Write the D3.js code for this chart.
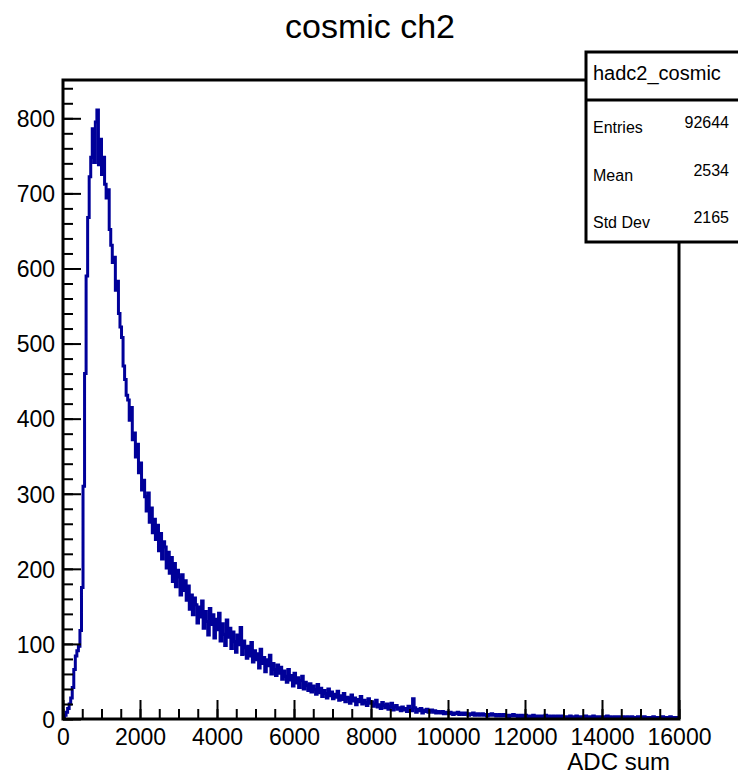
<!DOCTYPE html>
<html>
<head>
<meta charset="utf-8">
<script src="https://cdn.jsdelivr.net/npm/d3@7"></script>
<style>
  body { margin: 0; background: white; }
  svg { display: block; font-family: "Liberation Sans", Arimo, Helvetica, sans-serif; }
</style>
</head>
<body>
<svg id="chart" width="738" height="781"></svg>
<script>
// histogram hadc2_cosmic, 400 bins of 40 ADC between 0 and 16000
var binWidth = 40;
var counts = [
	2, 5, 9, 14, 20, 28, 42, 66, 84, 91, 97, 118, 175, 310, 460, 590, 668, 722, 748, 786,
	741, 795, 811, 738, 772, 725, 748, 712, 694, 705, 652, 631, 608, 615, 571, 583, 540, 522, 508, 470,
	452, 431, 425, 398, 415, 372, 381, 349, 366, 328, 341, 305, 318, 296, 277, 301, 262, 281, 248, 266,
	239, 258, 224, 247, 213, 236, 229, 201, 222, 194, 215, 183, 207, 176, 198, 189, 165, 192, 171, 184,
	158, 177, 146, 165, 139, 161, 152, 128, 149, 136, 157, 121, 143, 130, 112, 147, 126, 139, 108, 133,
	119, 141, 104, 127, 113, 98, 132, 109, 121, 94, 116, 103, 89, 112, 99, 122, 86, 104, 95, 81,
	97, 84, 102, 76, 91, 79, 87, 68, 93, 74, 82, 63, 79, 71, 85, 60, 74, 66, 58, 72,
	61, 69, 53, 64, 57, 49, 66, 52, 58, 44, 61, 48, 55, 42, 51, 57, 40, 49, 45, 38,
	47, 36, 44, 39, 33, 46, 35, 41, 30, 38, 34, 28, 40, 31, 36, 27, 33, 29, 37, 25,
	31, 26, 34, 23, 29, 27, 21, 32, 24, 28, 19, 26, 23, 30, 20, 25, 22, 18, 27, 21,
	23, 17, 20, 25, 16, 19, 14, 22, 18, 15, 20, 13, 17, 21, 12, 16, 18, 13, 15, 11,
	16, 12, 14, 10, 17, 13, 11, 27, 15, 9, 13, 11, 14, 8, 12, 10, 13, 9, 11, 12,
	9, 11, 8, 10, 9, 8, 10, 7, 9, 8, 7, 9, 8, 6, 8, 7, 9, 6, 7, 8,
	6, 8, 7, 5, 7, 6, 8, 5, 6, 7, 5, 6, 7, 5, 6, 4, 6, 5, 7, 5,
	6, 4, 5, 6, 4, 5, 6, 4, 5, 3, 5, 4, 6, 4, 5, 3, 4, 5, 3, 4,
	5, 3, 4, 4, 3, 5, 3, 4, 3, 4, 2, 4, 3, 5, 3, 4, 2, 3, 4, 3,
	3, 4, 2, 3, 4, 2, 3, 3, 2, 4, 3, 2, 3, 4, 2, 3, 2, 3, 2, 4,
	2, 3, 2, 3, 4, 2, 3, 2, 3, 2, 2, 3, 2, 4, 2, 3, 2, 2, 3, 2,
	3, 2, 2, 3, 1, 2, 3, 2, 2, 3, 2, 1, 2, 3, 2, 2, 1, 3, 2, 2,
	2, 1, 2, 3, 2, 2, 1, 2, 2, 3, 1, 2, 2, 1, 3, 2, 1, 2, 2, 1
];

var xTicks = [0, 2000, 4000, 6000, 8000, 10000, 12000, 14000, 16000];
var yTicks = [0, 100, 200, 300, 400, 500, 600, 700, 800];
var statNames = ["Entries", "Mean", "Std Dev"];
var statValues = ["92644", "2534", "2165"];

var svg = d3.select("#chart"),
	frameL = 63, frameR = 679, frameT = 80, frameB = 719,
	lineColor = "#000099";

var x = d3.scaleLinear().domain([0, 16000]).range([frameL, frameR]);
var y = d3.scaleLinear().domain([0, 851]).range([frameB, frameT]);

// title
svg.append("text")
	.attr("x", 370).attr("y", 38)
	.attr("text-anchor", "middle")
	.style("font-size", "34px")
	.text("cosmic ch2");

svg.append("clipPath").attr("id", "frame")
	.append("rect")
	.attr("x", frameL).attr("y", frameT)
	.attr("width", frameR - frameL).attr("height", frameB - frameT);

// histogram as steps
var pts = counts.map(function (c, i) { return [i * binWidth, c]; });
pts.push([counts.length * binWidth, counts[counts.length - 1]]);

var line = d3.line()
	.x(function (d) { return x(d[0]); })
	.y(function (d) { return y(d[1]); })
	.curve(d3.curveStepAfter);

svg.append("path")
	.datum(pts)
	.attr("clip-path", "url(#frame)")
	.attr("d", line)
	.attr("fill", "none")
	.attr("stroke", lineColor)
	.attr("stroke-width", 3)
	.attr("stroke-linejoin", "miter");

// minor ticks
var yMinor = d3.range(0, 851, 20);
var xMinor = d3.range(0, 16001, 500);

svg.append("g")
	.attr("transform", "translate(" + frameL + ",0)")
	.call(d3.axisLeft(y).tickValues(yMinor).tickSize(-10).tickFormat(""))
	.call(function (g) { g.select(".domain").remove(); })
	.selectAll("line").attr("stroke-width", 2);

svg.append("g")
	.attr("transform", "translate(0," + frameB + ")")
	.call(d3.axisBottom(x).tickValues(xMinor).tickSize(-10).tickFormat(""))
	.call(function (g) { g.select(".domain").remove(); })
	.selectAll("line").attr("stroke-width", 2);

// major ticks + labels
var yAxis = svg.append("g")
	.attr("transform", "translate(" + frameL + ",0)")
	.call(d3.axisLeft(y).tickValues(yTicks).tickSize(-18).tickPadding(8).tickFormat(d3.format("d")));
yAxis.select(".domain").remove();
yAxis.selectAll("line").attr("stroke-width", 2);
yAxis.selectAll("text").style("font-size", "23px").attr("fill", "#000").attr("dy", "0.36em");

var xAxis = svg.append("g")
	.attr("transform", "translate(0," + frameB + ")")
	.call(d3.axisBottom(x).tickValues(xTicks).tickSize(-19).tickPadding(8).tickFormat(d3.format("d")));
xAxis.select(".domain").remove();
xAxis.selectAll("line").attr("stroke-width", 2);
xAxis.selectAll("text").style("font-size", "23px").attr("fill", "#000").attr("dy", "0.8em");

svg.append("text")
	.attr("x", 670).attr("y", 770)
	.attr("text-anchor", "end")
	.style("font-size", "24px")
	.text("ADC sum");

// frame
svg.append("rect")
	.attr("x", frameL).attr("y", frameT)
	.attr("width", frameR - frameL).attr("height", frameB - frameT)
	.attr("fill", "none")
	.attr("stroke", "#000")
	.attr("stroke-width", 3);

// stats box
var box = svg.append("g");
box.append("rect")
	.attr("x", 586).attr("y", 52)
	.attr("width", 170).attr("height", 190)
	.attr("fill", "white")
	.attr("stroke", "#000")
	.attr("stroke-width", 3);
box.append("line")
	.attr("x1", 586).attr("x2", 740)
	.attr("y1", 100).attr("y2", 100)
	.attr("stroke", "#000")
	.attr("stroke-width", 3);
box.append("text")
	.attr("x", 593).attr("y", 80)
	.style("font-size", "20px")
	.text("hadc2_cosmic");

statNames.forEach(function (name, i) {
	box.append("text")
		.attr("x", 593).attr("y", 133 + i * 47.5)
		.style("font-size", "16px")
		.text(name);
	box.append("text")
		.attr("x", 729).attr("y", 128 + i * 47.5)
		.attr("text-anchor", "end")
		.style("font-size", "16px")
		.text(statValues[i]);
});
</script>
</body>
</html>
